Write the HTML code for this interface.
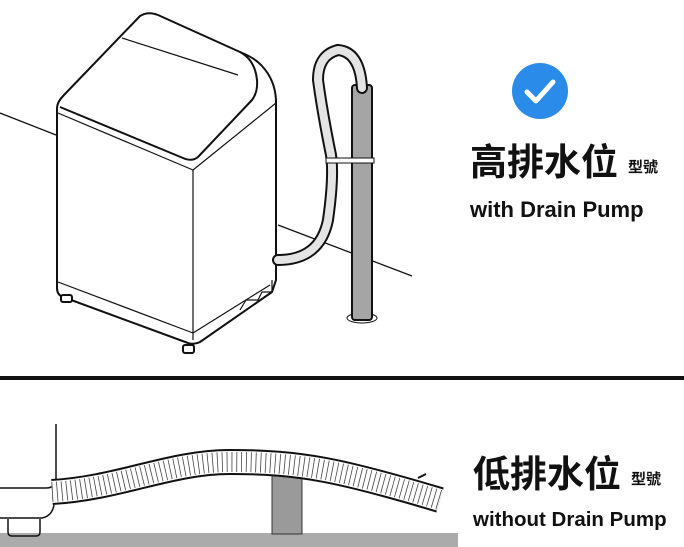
<!DOCTYPE html>
<html><head><meta charset="utf-8"><style>
html,body{margin:0;padding:0;background:#fff;width:684px;height:547px;overflow:hidden}
svg{display:block}
.cjk{font-family:"Liberation Sans","Noto Sans CJK TC",sans-serif;font-weight:bold;fill:#111}
</style></head><body>
<svg width="684" height="547" viewBox="0 0 684 547" xmlns="http://www.w3.org/2000/svg">
<line x1="0" y1="113" x2="56" y2="135" stroke="#111" stroke-width="1.3"/>
<line x1="278" y1="225" x2="412" y2="276" stroke="#111" stroke-width="1.3"/>
<g fill="#fff" stroke="#111" stroke-width="2" stroke-linejoin="round">
<path d="M57,108 L57,288 Q57,295 63,297 L188,343 Q193,345 200,342 L272,292 L276,280 L276,100 Q275,80 262,66 Q255,58 240,52 L158,15 Q148,11 140,16 L64,95 Q57,102 57,108 Z"/>
<path d="M60,107 L183,158 Q192,162 198,157 L252,100 Q258,92 257,80 Q255,60 240,52" fill="none"/>
<path d="M122,38 L238,75" fill="none" stroke-width="1.2"/>
<path d="M193,170 L193,340" fill="none" stroke-width="1.2"/>
<path d="M58,113 L193,170 L276,103" fill="none" stroke-width="1.2"/>
<path d="M58,282 L193,333 L270,285" fill="none" stroke-width="1.2"/>
<rect x="61" y="295" width="11" height="7" rx="2"/>
<rect x="183" y="345" width="11" height="8" rx="2"/>
<path d="M240,310 L246,300 L258,300 L262,292 L272,292 L272,280" fill="none" stroke-width="1.2"/>
</g>
<ellipse cx="362" cy="318" rx="15" ry="5" fill="#fff" stroke="#111" stroke-width="1"/>
<rect x="352" y="85" width="20" height="235" rx="3" fill="#a5a5a5" stroke="#111" stroke-width="2"/>
<path d="M278,260 Q320,260 328,220 Q335,170 330,150 Q322,110 318,80 Q318,55 338,50 Q360,52 362,88" fill="none" stroke="#111" stroke-width="12" stroke-linecap="round"/>
<path d="M278,260 Q320,260 328,220 Q335,170 330,150 Q322,110 318,80 Q318,55 338,50 Q360,52 362,88" fill="none" stroke="#e4e4e4" stroke-width="8" stroke-linecap="round"/>
<rect x="326" y="158" width="48" height="5" fill="#fff" stroke="#111" stroke-width="1"/>
<circle cx="540" cy="91" r="28" fill="#2a8be8"/>
<path d="M527,92 L536,101 L553,82" fill="none" stroke="#fff" stroke-width="5" stroke-linecap="round" stroke-linejoin="round"/>
<text x="470" y="175" class="cjk" font-size="37">高排水位</text>
<text x="628" y="172" class="cjk" font-size="15">型號</text>
<text x="470" y="217" class="cjk" font-size="22">with Drain Pump</text>
<rect x="0" y="376" width="684" height="4" fill="#111"/>
<rect x="0" y="533" width="458" height="14" fill="#ababab"/>
<rect x="272" y="458" width="30" height="76" fill="#9a9a9a" stroke="#333" stroke-width="1"/>
<path d="M56,424 L56,478 Q56,488 46,488 L0,488" fill="none" stroke="#111" stroke-width="1.5"/>
<path d="M0,518 L42,518 Q52,516 54,505" fill="none" stroke="#111" stroke-width="1.5"/>
<path d="M8,519 L8,532 Q8,536 12,536 L36,536 Q40,536 40,532 L40,519" fill="none" stroke="#111" stroke-width="1.5"/>
<path d="M52,492 C120,488 170,462 230,462 C300,462 340,470 440,500" fill="none" stroke="#111" stroke-width="26"/>
<path d="M52,492 C120,488 170,462 230,462 C300,462 340,470 440,500" fill="none" stroke="#fff" stroke-width="22"/>
<path d="M52,492 C120,488 170,462 230,462 C300,462 340,470 440,500" fill="none" stroke="#444" stroke-width="20" stroke-dasharray="0.8 4"/>
<path d="M418,478 L426,474" stroke="#111" stroke-width="2"/>
<text x="473" y="487" class="cjk" font-size="37">低排水位</text>
<text x="631" y="484" class="cjk" font-size="15">型號</text>
<text x="473" y="526" class="cjk" font-size="20.5">without Drain Pump</text>
</svg>
</body></html>
